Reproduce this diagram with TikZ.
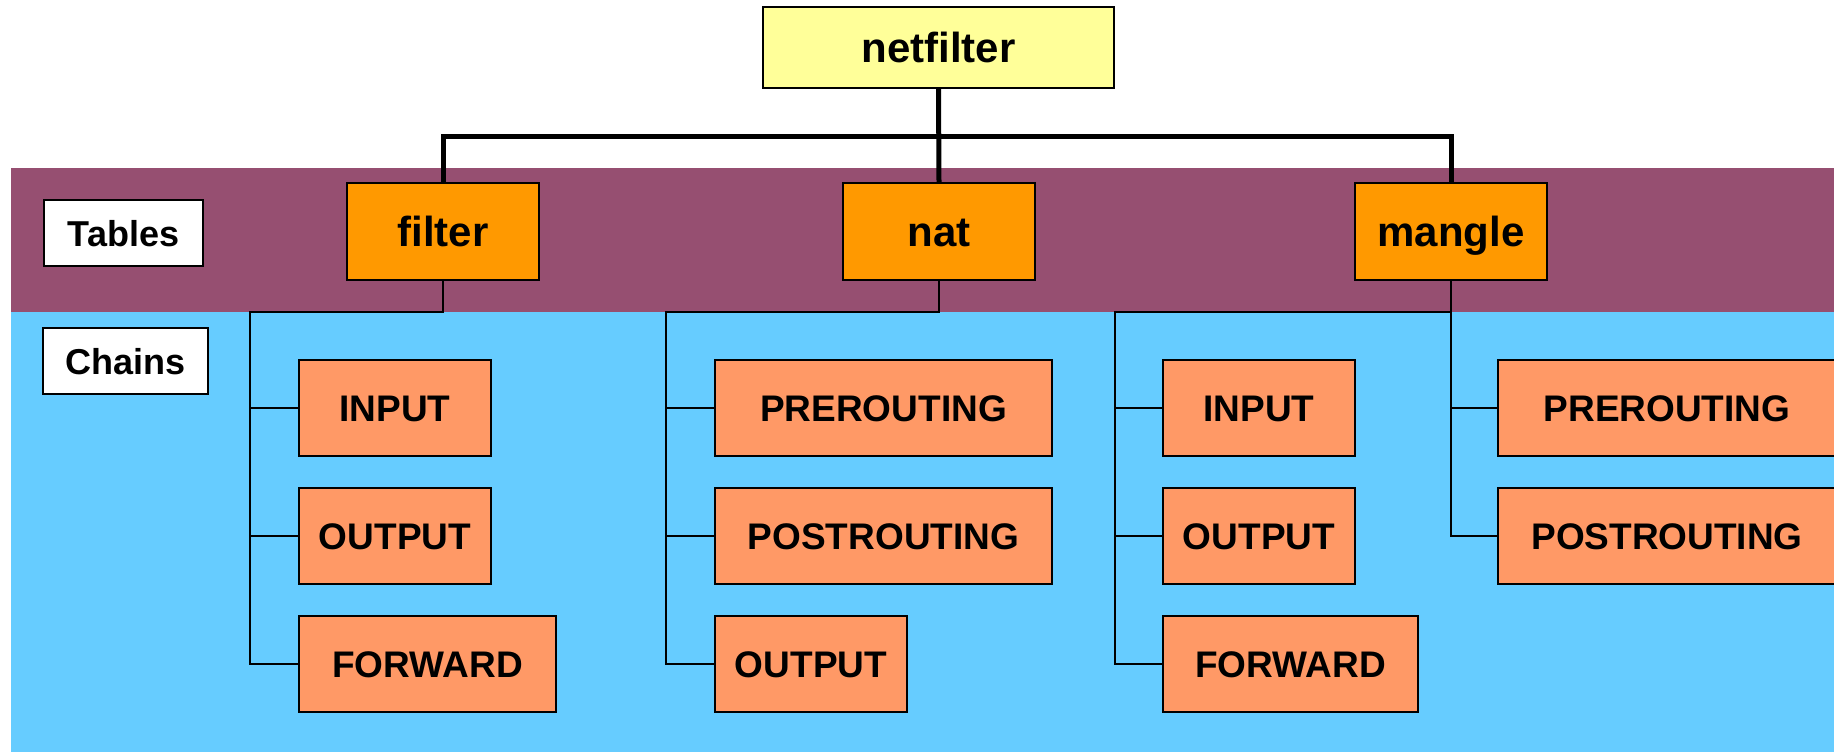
\documentclass[tikz,border=0pt]{standalone}
\usepackage{fontspec}
\setmainfont{Liberation Sans}
\definecolor{nfyellow}{HTML}{FFFF99}
\definecolor{tblorange}{HTML}{FF9900}
\definecolor{chsalmon}{HTML}{FF9966}
\definecolor{bandpurple}{HTML}{964F71}
\definecolor{bandcyan}{HTML}{66CCFF}
\begin{document}
\begin{tikzpicture}[x=1pt,y=-1pt,
  basebox/.style={draw=black, line width=2pt, inner sep=0pt, anchor=center},
  nfbox/.style={basebox, fill=nfyellow, font=\bfseries\fontsize{42}{48}\selectfont, text height=30pt, text depth=0pt},
  tblbox/.style={basebox, fill=tblorange, minimum width=192pt, minimum height=97pt, font=\bfseries\fontsize{42}{48}\selectfont, text height=30pt, text depth=0pt},
  chbox/.style={basebox, fill=chsalmon, minimum height=96pt, font=\bfseries\fontsize{37}{44}\selectfont, text height=26.5pt, text depth=0pt},
  lblbox/.style={basebox, fill=white, minimum height=66pt, font=\bfseries\fontsize{36}{42}\selectfont, text height=26pt, text depth=0pt},
  thickline/.style={line width=5pt, line join=miter, black},
  thinline/.style={line width=2.2pt, line join=miter, black}]
\clip (0,0) rectangle (1834,752);
\fill[white] (0,0) rectangle (1834,752);
\fill[bandpurple] (11,168) rectangle (1834,312);
\fill[bandcyan] (11,312) rectangle (1834,752);

% top
\node[nfbox, minimum width=351pt, minimum height=81pt] (netfilter) at (938.5,47.5) {netfilter};
\coordinate (bar) at (939,136);

% tables
\node[tblbox] (filter) at (443,231.5) {filter};
\node[tblbox] (nat) at (939,231.5) {nat};
\node[tblbox] (mangle) at (1451,231.5) {mangle};

% labels
\node[lblbox, minimum width=159pt] (tables) at (123.5,233) {Tables};
\node[lblbox, minimum width=165pt] (chains) at (125.5,361) {Chains};

% filter chains
\node[chbox, minimum width=192pt] (fin) at (395,408) {INPUT};
\node[chbox, minimum width=192pt] (fout) at (395,536) {OUTPUT};
\node[chbox, minimum width=257pt] (ffwd) at (427.5,664) {FORWARD};

% nat chains
\node[chbox, minimum width=337pt] (npre) at (883.5,408) {PREROUTING};
\node[chbox, minimum width=337pt] (npost) at (883.5,536) {POSTROUTING};
\node[chbox, minimum width=192pt] (nout) at (811,664) {OUTPUT};

% mangle chains
\node[chbox, minimum width=192pt] (min) at (1259,408) {INPUT};
\node[chbox, minimum width=192pt] (mout) at (1259,536) {OUTPUT};
\node[chbox, minimum width=255pt] (mfwd) at (1290.5,664) {FORWARD};
\node[chbox, minimum width=338pt] (mpre) at (1667,408) {PREROUTING};
\node[chbox, minimum width=338pt] (mpost) at (1667,536) {POSTROUTING};

% thick connectors
\draw[thickline] (netfilter.south) -- (nat.north);
\draw[thickline] (filter.north) |- (bar -| mangle.north) -- (mangle.north);

% bus coordinates
\coordinate (fbus) at (250,312);
\coordinate (nbus) at (666,312);
\coordinate (mbus) at (1115,312);

% filter tree
\draw[thinline] (filter.south) |- (fbus) |- (ffwd.west);
\draw[thinline] (fbus |- fin.west) -- (fin.west);
\draw[thinline] (fbus |- fout.west) -- (fout.west);

% nat tree
\draw[thinline] (nat.south) |- (nbus) |- (nout.west);
\draw[thinline] (nbus |- npre.west) -- (npre.west);
\draw[thinline] (nbus |- npost.west) -- (npost.west);

% mangle tree
\draw[thinline] (mangle.south) |- (mbus) |- (mfwd.west);
\draw[thinline] (mbus |- min.west) -- (min.west);
\draw[thinline] (mbus |- mout.west) -- (mout.west);
\draw[thinline] (mangle.south |- mbus) |- (mpost.west);
\draw[thinline] (mangle.south |- mpre.west) -- (mpre.west);
\end{tikzpicture}
\end{document}
